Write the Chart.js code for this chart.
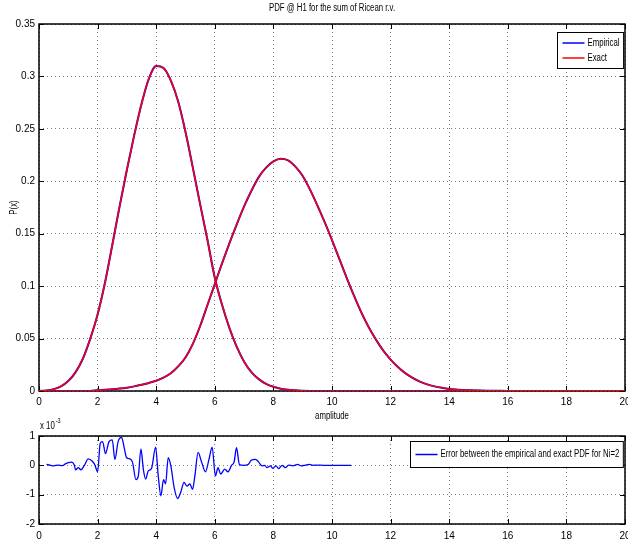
<!DOCTYPE html>
<html>
<head>
<meta charset="utf-8">
<script src="https://cdn.jsdelivr.net/npm/chart.js@4.4.1/dist/chart.umd.min.js"></script>
<style>
  html, body { margin: 0; padding: 0; background: #fff; overflow: hidden; width: 628px; height: 545px; }
  #pdfChart { position: absolute; left: 0; top: 0; }
  #errChart { position: absolute; left: 0; top: 416px; }
</style>
</head>
<body>
<canvas id="pdfChart" width="640" height="430"></canvas>
<canvas id="errChart" width="640" height="129"></canvas>
<script>
// amplitude grid (0.25 steps up to 14, then 1)
var amplitude = [0, 0.25, 0.5, 0.75, 1, 1.25, 1.5, 1.75, 2, 2.25, 2.5, 2.75, 3, 3.25, 3.5, 3.75,
  4, 4.25, 4.5, 4.75, 5, 5.25, 5.5, 5.75, 6, 6.25, 6.5, 6.75, 7, 7.25, 7.5, 7.75,
  8, 8.25, 8.5, 8.75, 9, 9.25, 9.5, 9.75, 10, 10.25, 10.5, 10.75, 11, 11.25, 11.5, 11.75,
  12, 12.25, 12.5, 12.75, 13, 13.25, 13.5, 13.75, 14, 15, 16, 17, 18, 19, 20];

// left pdf (peak near 4)
var pdfLow = [0, 0.0005, 0.0018, 0.0045, 0.0095, 0.018, 0.031, 0.050, 0.073, 0.103, 0.139, 0.176, 0.211, 0.244, 0.274, 0.298,
  0.310, 0.308, 0.296, 0.276, 0.247, 0.213, 0.178, 0.144, 0.108, 0.082, 0.060, 0.042, 0.028, 0.018, 0.0113, 0.0068,
  0.004, 0.0022, 0.0012, 0.0006, 0.0003, 0.0001, 0, 0, 0, 0, 0, 0, 0, 0, 0, 0,
  0, 0, 0, 0, 0, 0, 0, 0, 0, 0, 0, 0, 0, 0, 0];

// right pdf (peak near 8.2)
var pdfHigh = [0, 0, 0, 0, 0, 0, 0, 0, 0.0007, 0.0011, 0.0016, 0.0023, 0.0032, 0.0044, 0.0059, 0.0077,
  0.0098, 0.0128, 0.0170, 0.0235, 0.032, 0.045, 0.062, 0.082, 0.102, 0.122, 0.141, 0.159, 0.176, 0.191, 0.204, 0.213,
  0.219, 0.2215, 0.220, 0.214, 0.205, 0.192, 0.177, 0.161, 0.144, 0.126, 0.108, 0.091, 0.075, 0.061, 0.049, 0.0385,
  0.030, 0.0228, 0.0170, 0.0125, 0.0090, 0.0063, 0.0044, 0.0030, 0.0020, 0.0004, 0.0001, 0, 0, 0, 0];

// error between empirical and exact pdf (x 1e-3)
var errAmp = [0.26, 0.4, 0.5, 0.65, 0.8, 0.9, 1.0, 1.11, 1.2, 1.25, 1.34, 1.43, 1.55, 1.68, 1.82, 1.9,
  2.0, 2.09, 2.17, 2.27, 2.39, 2.5, 2.59, 2.7, 2.82, 2.9, 2.99, 3.1, 3.19, 3.31, 3.39, 3.48,
  3.56, 3.64, 3.73, 3.84, 3.98, 4.07, 4.16, 4.25, 4.32, 4.41, 4.5, 4.61, 4.73, 4.84, 4.95, 5.05,
  5.15, 5.24, 5.32, 5.43, 5.55, 5.68, 5.8, 5.91, 6.02, 6.11, 6.2, 6.34, 6.45, 6.57, 6.66, 6.74,
  6.84, 6.98, 7.14, 7.25, 7.39, 7.5, 7.61, 7.7, 7.78, 7.9, 7.98, 8.09, 8.18, 8.3, 8.41, 8.52,
  8.66, 8.83, 8.95, 9.1, 9.23, 9.35, 9.5, 9.7, 10.0, 10.3, 10.65];
var errVal = [0.03, 0.0, -0.02, 0.01, -0.01, 0.05, 0.09, 0.11, 0.02, -0.15, -0.08, -0.15, 0.0, 0.22, 0.14, 0.03,
  -0.22, 0.75, 0.81, 0.4, 0.81, 0.87, 0.2, 0.81, 0.95, 0.64, 0.26, 0.22, 0.11, -0.49, -0.36, 0.56,
  -0.13, -0.47, -0.19, -0.11, 0.62, -0.36, -1.04, -0.49, -0.63, 0.26, -0.02, -0.74, -1.13, -0.91, -0.58, -0.71,
  -0.63, -0.82, -0.36, 0.44, 0.11, -0.22, 0.2, 0.62, -0.36, -0.08, -0.3, -0.13, -0.22, 0.0, 0.12, 0.6,
  0.03, 0.0, 0.03, 0.18, 0.2, 0.11, -0.02, 0.0, -0.08, -0.02, -0.1, -0.02, -0.11, 0.0, -0.08, 0.01,
  -0.02, 0.03, -0.02, 0.01, 0.03, 0.0, 0.01, 0.0, 0.0, 0.0, 0.0];

var FONT = '"Liberation Sans", Arial, sans-serif';
var NARROW = 0.78; // matlab labels use a condensed helvetica
Chart.defaults.font.family = FONT;
Chart.defaults.font.size = 10;
Chart.defaults.color = '#000';

function pts(xs, ys) {
  return xs.map(function (x, i) { return { x: x, y: ys[i] }; });
}

// condensed text, drawn with a horizontal squeeze
function narrowText(ctx, text, x, y, align, size, angle) {
  ctx.save();
  ctx.font = size + 'px ' + FONT;
  ctx.fillStyle = '#000';
  ctx.textBaseline = 'middle';
  ctx.textAlign = align;
  ctx.translate(x, y);
  if (angle) ctx.rotate(angle);
  ctx.scale(NARROW, 1);
  ctx.fillText(text, 0, 0);
  var w = ctx.measureText(text).width * NARROW;
  ctx.restore();
  return w;
}

// matlab-like box, inward ticks, labels, legend box
var matlabAxes = {
  id: 'matlabAxes',
  beforeDatasetsDraw: function (chart) {
    var ctx = chart.ctx, a = chart.chartArea;
    var sx = chart.scales.x, sy = chart.scales.y;
    ctx.save();
    ctx.strokeStyle = '#000';
    ctx.lineWidth = 1;
    ctx.beginPath();
    sx.ticks.forEach(function (t) {
      var px = Math.round(sx.getPixelForValue(t.value)) + 0.5;
      ctx.moveTo(px, a.bottom); ctx.lineTo(px, a.bottom - 5);
      ctx.moveTo(px, a.top); ctx.lineTo(px, a.top + 5);
    });
    sy.ticks.forEach(function (t) {
      var py = Math.round(sy.getPixelForValue(t.value)) + 0.5;
      ctx.moveTo(a.left, py); ctx.lineTo(a.left + 5, py);
      ctx.moveTo(a.right, py); ctx.lineTo(a.right - 5, py);
    });
    ctx.stroke();
    ctx.lineWidth = 1.5;
    ctx.strokeRect(a.left, a.top, a.right - a.left, a.bottom - a.top);
    ctx.restore();
  },
  afterDraw: function (chart, args, opts) {
    var ctx = chart.ctx, a = chart.chartArea;
    var cx = (a.left + a.right) / 2;
    if (opts.title) narrowText(ctx, opts.title, cx, a.top - 16, 'center', 10);
    if (opts.xTitle) narrowText(ctx, opts.xTitle, cx, a.bottom + 25, 'center', 10);
    if (opts.yTitle) narrowText(ctx, opts.yTitle, 14, (a.top + a.bottom) / 2, 'center', 10, -Math.PI / 2);
    if (opts.exponent) {
      var w = narrowText(ctx, 'x 10', a.left + 1, a.top - 10, 'left', 10);
      narrowText(ctx, opts.exponent, a.left + 2 + w, a.top - 15, 'left', 7);
    }
    var items = opts.items || [];
    if (items.length) {
      ctx.save();
      ctx.font = '10px ' + FONT;
      var textW = 0;
      items.forEach(function (it) { textW = Math.max(textW, ctx.measureText(it.label).width * NARROW); });
      var pad = opts.pad || 3, rowH = 15;
      var bw = 30 + textW + 4, bh = items.length * rowH + pad * 2;
      var x0 = Math.round(a.right - 2 - bw) + 0.5, y0 = Math.round(a.top + opts.offsetTop) + 0.5;
      ctx.fillStyle = '#fff';
      ctx.fillRect(x0, y0, bw, bh);
      ctx.strokeStyle = '#000';
      ctx.lineWidth = 1;
      ctx.strokeRect(x0, y0, bw, bh);
      items.forEach(function (it, i) {
        var cy = y0 + pad + rowH * (i + 0.5);
        ctx.strokeStyle = it.color;
        ctx.lineWidth = 1.5;
        ctx.beginPath();
        ctx.moveTo(x0 + 5, cy); ctx.lineTo(x0 + 27, cy);
        ctx.stroke();
        narrowText(ctx, it.label, x0 + 30, cy, 'left', 10);
      });
      ctx.restore();
    }
  }
};

var gridStyle = { color: '#808080', drawTicks: false };
var borderStyle = { display: false, dash: [1, 3] };

new Chart(document.getElementById('pdfChart'), {
  type: 'line',
  data: {
    datasets: [
      { label: 'Exact', data: pts(amplitude, pdfLow), borderColor: '#ff0000', borderWidth: 1.5, order: 1 },
      { label: 'Exact', data: pts(amplitude, pdfHigh), borderColor: '#ff0000', borderWidth: 1.5, order: 1 },
      { label: 'Empirical', data: pts(amplitude, pdfLow), borderColor: '#0000ff', borderWidth: 2, order: 2 },
      { label: 'Empirical', data: pts(amplitude, pdfHigh), borderColor: '#0000ff', borderWidth: 2, order: 2 }
    ]
  },
  options: {
    responsive: false,
    animation: false,
    elements: { point: { radius: 0 }, line: { cubicInterpolationMode: 'monotone', fill: false } },
    layout: { padding: { left: 0, right: 15, top: 24, bottom: 0 } },
    plugins: {
      legend: { display: false },
      tooltip: { enabled: false },
      matlabAxes: {
        title: 'PDF @ H1 for the sum of Ricean r.v.', xTitle: 'amplitude', yTitle: 'P(x)',
        offsetTop: 8, pad: 3, items: [
          { label: 'Empirical', color: '#0000ff' },
          { label: 'Exact', color: '#ff0000' }
        ] }
    },
    scales: {
      x: {
        type: 'linear', min: 0, max: 20,
        ticks: { stepSize: 2, padding: 5, maxRotation: 0 },
        grid: gridStyle, border: borderStyle,
        afterFit: function (s) { s.height = 39; }
      },
      y: {
        min: 0, max: 0.35,
        ticks: { stepSize: 0.05, padding: 4, callback: function (v) { return String(Math.round(v * 100) / 100); } },
        grid: gridStyle, border: borderStyle,
        afterFit: function (s) { s.width = 39; }
      }
    }
  },
  plugins: [matlabAxes]
});

new Chart(document.getElementById('errChart'), {
  type: 'line',
  data: {
    datasets: [
      { label: 'Error between the empirical and exact PDF for Ni=2', data: pts(errAmp, errVal),
        borderColor: '#0000ff', borderWidth: 1.3 }
    ]
  },
  options: {
    responsive: false,
    animation: false,
    elements: { point: { radius: 0 }, line: { cubicInterpolationMode: 'monotone', fill: false } },
    layout: { padding: { left: 0, right: 15, top: 20, bottom: 0 } },
    plugins: {
      legend: { display: false },
      tooltip: { enabled: false },
      matlabAxes: { exponent: '-3', offsetTop: 5, pad: 5.5, items: [
        { label: 'Error between the empirical and exact PDF for Ni=2', color: '#0000ff' }
      ] }
    },
    scales: {
      x: {
        type: 'linear', min: 0, max: 20,
        ticks: { stepSize: 2, padding: 6, maxRotation: 0 },
        grid: gridStyle, border: borderStyle,
        afterFit: function (s) { s.height = 21; }
      },
      y: {
        min: -2, max: 1,
        ticks: { stepSize: 1, padding: 4, callback: function (v) { return String(v); } },
        grid: gridStyle, border: borderStyle,
        afterFit: function (s) { s.width = 39; }
      }
    }
  },
  plugins: [matlabAxes]
});
</script>
</body>
</html>
